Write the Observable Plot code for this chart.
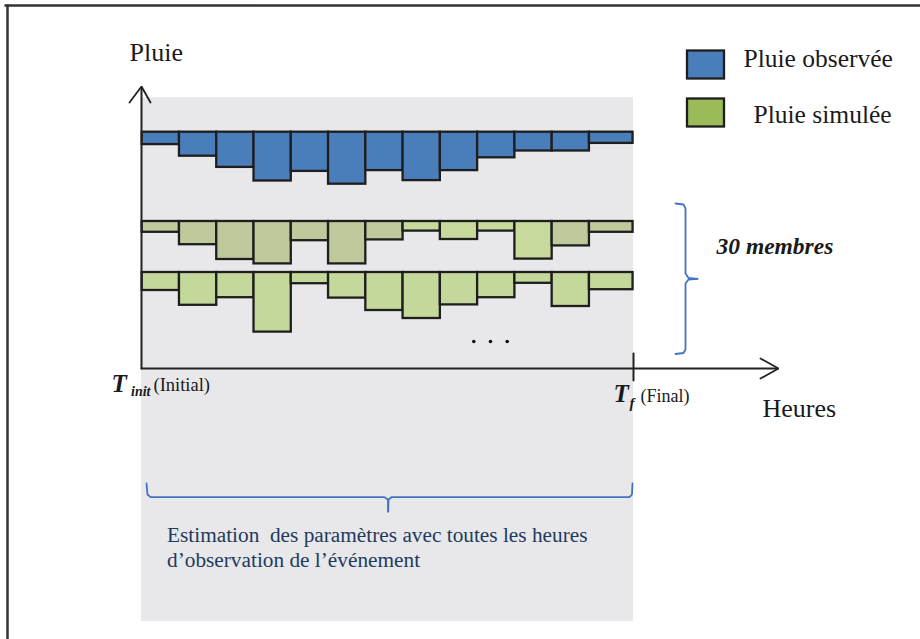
<!DOCTYPE html>
<html><head><meta charset="utf-8">
<script src="https://cdn.jsdelivr.net/npm/d3@7"></script>
<script src="https://cdn.jsdelivr.net/npm/@observablehq/plot@0.6"></script>
<style>html,body{margin:0;padding:0;background:#fff;} svg{display:block;}</style>
</head><body><div id="chart"></div>
<script>
// ---- data (rain per hour, mm) ----
const hours = [0,1,2,3,4,5,6,7,8,9,10,11,12];
const T_FINAL = 13.17;                      // end of last hour (T_f)
const pluieObservee = [3.1,6.0,8.8,12.2,9.8,13.0,9.6,12.1,9.6,6.4,4.7,4.7,2.8];
const membre1       = [2.7,5.8,9.5,10.6,4.8,10.6,4.6,2.4,4.5,2.4,9.4,6.1,2.7];
const membre2       = [4.5,8.2,6.3,14.9,2.8,6.4,9.5,11.5,8.1,6.3,2.7,8.5,4.3];
const membre1Shade  = ["s","s","s","s","s","s","s","l","l","l","l","s","s"];
const legendLabels  = ["Pluie observée","Pluie simulée"];

// ---- layout ----
const W = 920, H = 639;
const X0 = 141.7, PXH = 37.27;              // pixel of hour 0, pixels per hour
const hx = p => (p - X0) / PXH;             // page pixel -> hour units (for annotations)
const MM = 4;                               // pixels per mm of rain
const rows = [
  {top: 131.7, vals: pluieObservee, kind: "obs"},
  {top: 221,   vals: membre1,       kind: "m1"},
  {top: 272,   vals: membre2,       kind: "m2"}
];
const bars = rows.flatMap(r => hours.map((h, i) => ({
  t1: h, t2: i === hours.length - 1 ? T_FINAL : h + 1,
  y1: r.top, y2: r.top + r.vals[i] * MM,
  fill: r.kind === "obs" ? "#4a7ebb" : r.kind === "m1" ? (membre1Shade[i] === "s" ? "#bfca9c" : "#c7d99b") : "#c5d89b"
})));

const serif = "Liberation Serif, Times New Roman, serif";
const ink = "#222";
const blue = "#4472c4";

const seg = (pts) => pts.map(([x, y]) => ({x: hx(x), y}));
const lines = [
  // frame
  {pts: seg([[5,5],[920,5]]), w: 2.5, c: "#333"},
  {pts: seg([[7,5],[7,639]]), w: 2.5, c: "#333"},
  // axes
  {pts: seg([[141,368],[141,87]]), w: 2, c: ink},
  {pts: seg([[129,102],[141,86],[150,102]]), w: 1.8, c: ink},
  {pts: seg([[141,368],[777,368]]), w: 2, c: ink},
  {pts: seg([[760,358],[778,368],[760,378]]), w: 1.8, c: ink},
  {pts: seg([[633,353],[633,380]]), w: 2, c: ink},
  // right brace
  {pts: seg([[675,203],[683,204],[685,208],[685,273],[688,277.5],[697,278.3]]), w: 1.8, c: blue},
  {pts: seg([[697,278.3],[688,279],[685,283],[685,349],[683,352.5],[675,353.5]]), w: 1.8, c: blue},
  // bottom brace
  {pts: seg([[146,483],[147,494],[150,496.7],[384,496.7],[387.5,499],[387.7,511]]), w: 1.8, c: blue},
  {pts: seg([[387.7,511],[388,499],[391,496.7],[629,496.7],[631.5,494],[632,483]]), w: 1.8, c: blue}
];

const texts = [
  {x:129, y:60.5, t:"Pluie", s:26},
  {x:743, y:66.5, t:legendLabels[0], s:25.5},
  {x:753, y:122.5, t:legendLabels[1], s:25.5},
  {x:716, y:253, t:"30 membres", s:23.5, wt:"bold", st:"italic"},
  {x:111, y:391.5, t:"T", s:25, wt:"bold", st:"italic"},
  {x:130.5, y:395.5, t:"init", s:14, wt:"bold", st:"italic"},
  {x:153, y:390.5, t:"(Initial)", s:18.5},
  {x:613, y:401.5, t:"T", s:25, wt:"bold", st:"italic"},
  {x:629, y:407.5, t:"f", s:15, wt:"bold", st:"italic"},
  {x:640, y:401, t:"(Final)", s:18},
  {x:762, y:416, t:"Heures", s:26},
  {x:166.5, y:541.5, t:"Estimation  des paramètres avec toutes les heures", s:21.3, c:"#1f3a60"},
  {x:166.5, y:566.5, t:"d’observation de l’événement", s:21.3, c:"#1f3a60"}
];
const dots = [473.3, 490, 506.7].map(x => ({x: hx(x), y: 341}));

const marks = [
  Plot.rect([0], {x1: hx(141), x2: hx(633), y1: 97, y2: 621, fill: "#e8e8ea"}),
  Plot.rect(bars, {x1: "t1", x2: "t2", y1: "y1", y2: "y2", fill: "fill", stroke: "#1e1e1e", strokeWidth: 2.3}),
  Plot.rect(legendLabels, {x1: hx(687), x2: hx(724), y1: (d,i) => i ? 98.5 : 50.5, y2: (d,i) => i ? 126.5 : 78.5,
    fill: (d,i) => i ? "#9bbb59" : "#4a7ebb", stroke: "#1e1e1e", strokeWidth: 2.3}),
  Plot.dot(dots, {x: "x", y: "y", r: 1.8, fill: "#111", stroke: null}),
  ...lines.map(l => Plot.line(l.pts, {x: "x", y: "y", stroke: l.c, strokeWidth: l.w, curve: "linear", strokeLinejoin: "miter"})),
  ...texts.map(t => Plot.text([t], {x: d => hx(d.x), y: "y", text: "t", textAnchor: "start", lineAnchor: "bottom",
    fontSize: t.s, fontFamily: serif, fontWeight: t.wt || "normal", fontStyle: t.st || "normal", fill: t.c || "#1a1a1a"}))
];

const chart = Plot.plot({
  width: W, height: H, margin: 0,
  x: {type: "linear", domain: [hx(0), hx(W)], range: [0, W], axis: null},
  y: {type: "linear", domain: [0, H], range: [0, H], axis: null},
  style: {background: "#fff", overflow: "visible"},
  marks
});
document.getElementById("chart").append(chart);
</script></body></html>
